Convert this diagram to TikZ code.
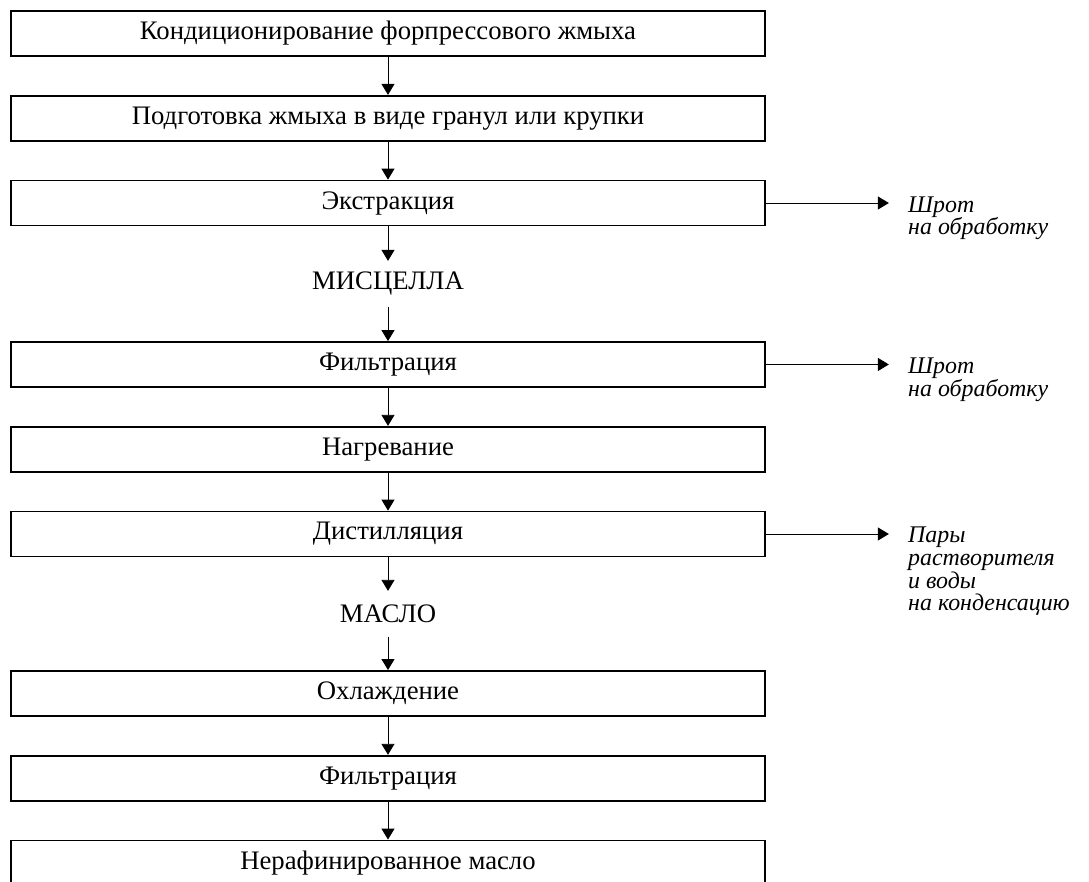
\documentclass[tikz,border=0pt]{standalone}
\usepackage{fontspec}
\setmainfont{Liberation Serif}
\usetikzlibrary{arrows.meta,positioning}
\newcommand\wastefont{\fontsize{13.6}{12.9}\selectfont\itshape\lineskiplimit=-8pt\relax}

\begin{document}
\begin{tikzpicture}[
    node distance=0.76cm,
    font=\fontsize{15.2}{18}\selectfont,
    stage/.style={rectangle, draw, line width=1pt, minimum width=15.08cm, minimum height=0.9cm, inner sep=0pt},
    product/.style={minimum height=0.9cm, inner sep=0pt},
    waste/.style={align=left, anchor=north west, inner sep=0pt, font=\wastefont},
    flow/.style={-{Triangle[width=0.26cm,length=0.22cm]}, line width=0.5pt}
]
\useasboundingbox (-7.76,0.67) rectangle (14.02,-16.97);

% Nodes
\node[stage] (cond) {Кондиционирование форпрессового жмыха};
\node[stage, below=of cond] (gran) {Подготовка жмыха в виде гранул или крупки};
\node[stage, below=of gran] (extr) {Экстракция};
\node[product, below=0.69cm of extr] (misc) {МИСЦЕЛЛА};
\node[stage, below=0.69cm of misc] (filt) {Фильтрация};
\node[stage, below=of filt] (heat) {Нагревание};
\node[stage, below=of heat] (dist) {Дистилляция};
\node[product, below=0.67cm of dist] (oil) {МАСЛО};
\node[stage, below=0.67cm of oil] (cool) {Охлаждение};
\node[stage, below=of cool] (filt2) {Фильтрация};
\node[stage, below=of filt2] (raw) {Нерафинированное масло};

% Side outputs
\node[waste] (meal1) at ([xshift=2.84cm, yshift=0.14cm]extr.east) {Шрот\\на обработку};
\node[waste] (meal2) at ([xshift=2.84cm, yshift=0.14cm]filt.east) {Шрот\\на обработку};
\node[waste] (vapour) at ([xshift=2.84cm, yshift=0.14cm]dist.east) {Пары\\растворителя\\и воды\\на конденсацию};

% Arrows
\draw[flow] (cond) -- (gran);
\draw[flow] (gran) -- (extr);
\draw[flow] (extr) -- (misc);
\draw[flow] (misc) -- (filt);
\draw[flow] (filt) -- (heat);
\draw[flow] (heat) -- (dist);
\draw[flow] (dist) -- (oil);
\draw[flow] (oil) -- (cool);
\draw[flow] (cool) -- (filt2);
\draw[flow] (filt2) -- (raw);
\draw[flow, shorten >=0.38cm] (extr.east) -- (extr.east -| meal1.west);
\draw[flow, shorten >=0.38cm] (filt.east) -- (filt.east -| meal2.west);
\draw[flow, shorten >=0.38cm] (dist.east) -- (dist.east -| vapour.west);

\end{tikzpicture}
\end{document}
